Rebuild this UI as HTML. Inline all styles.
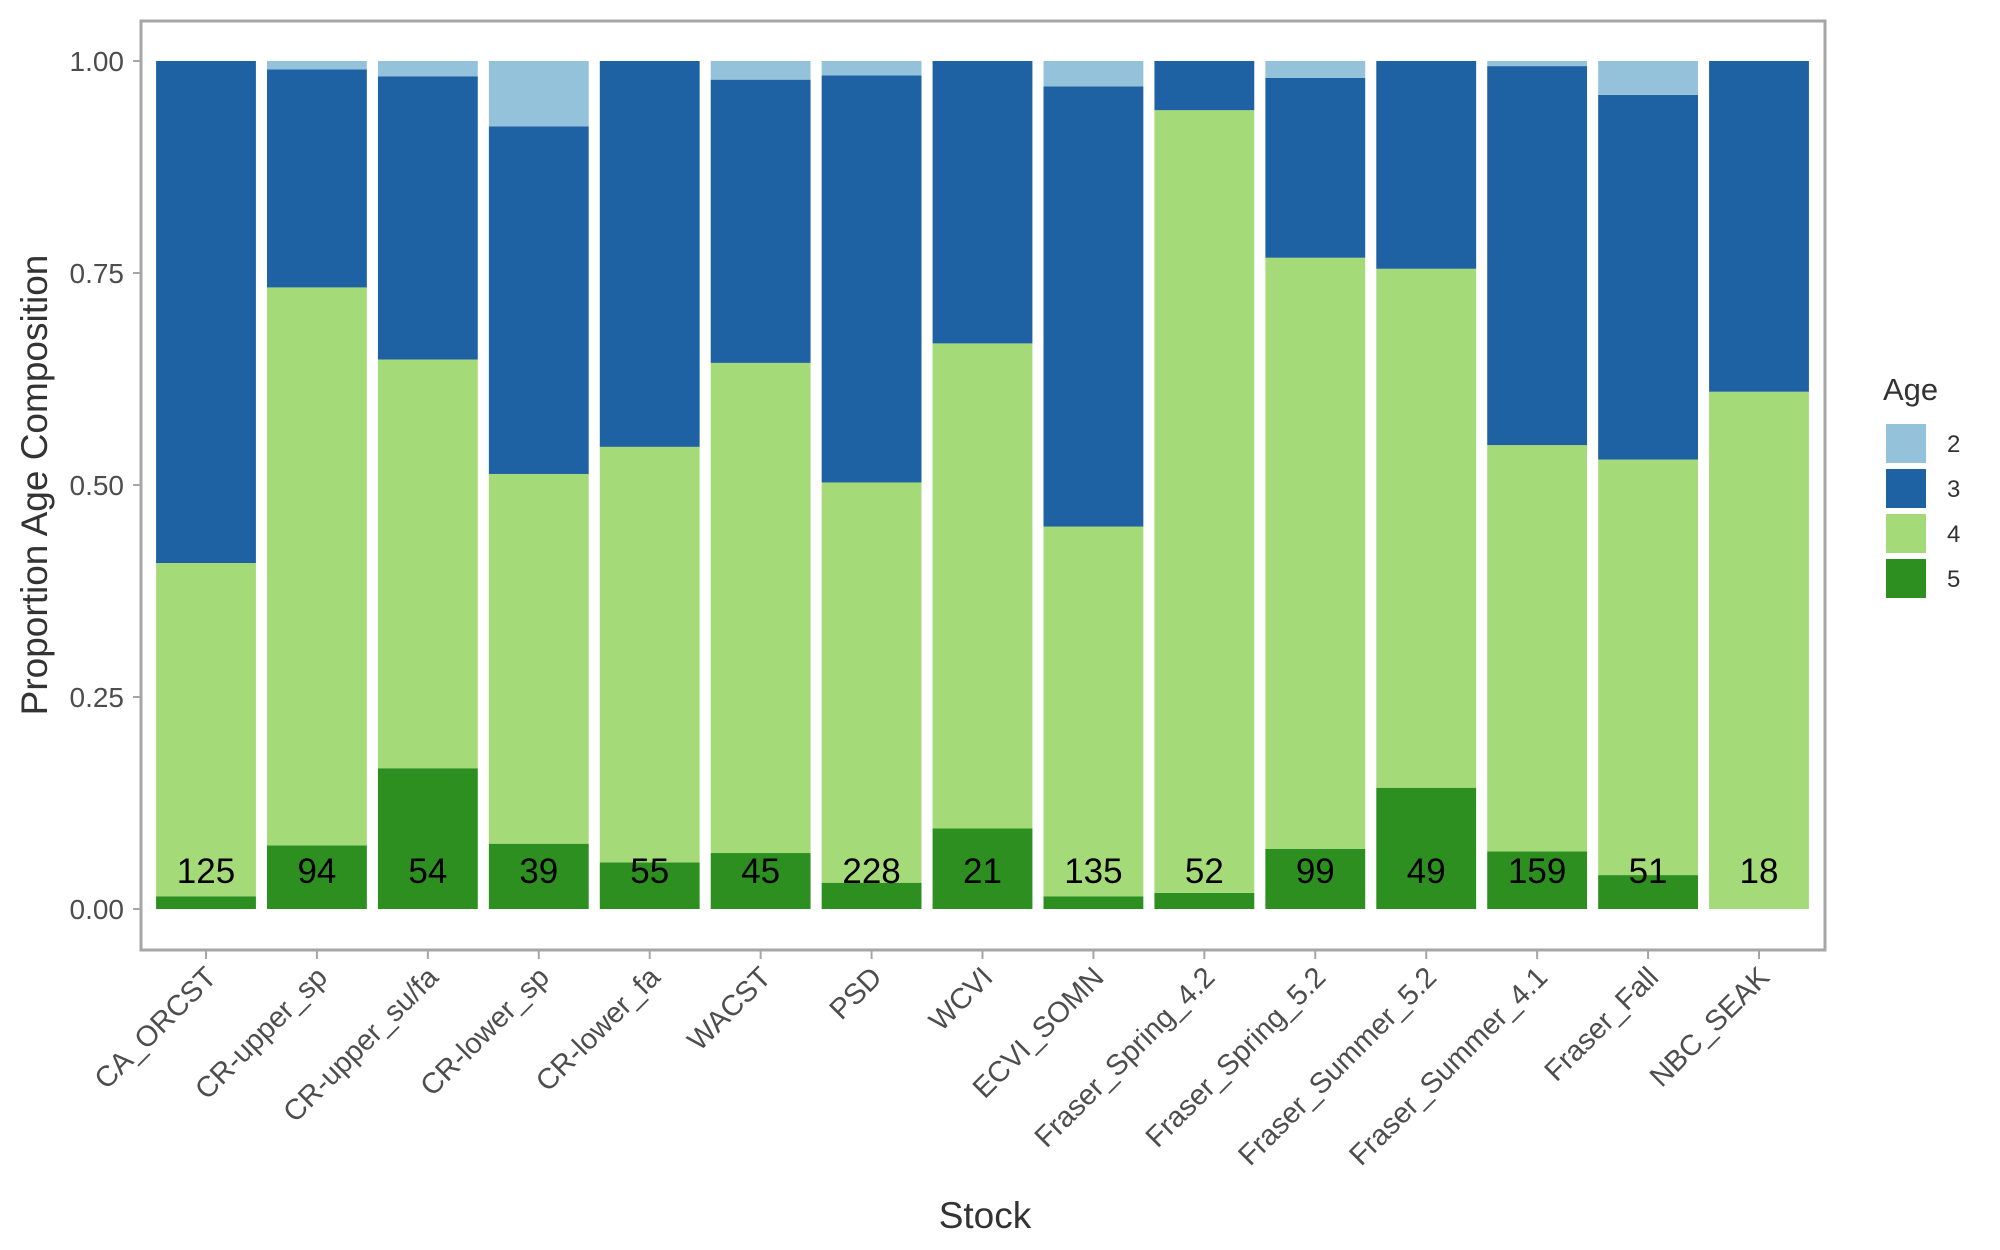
<!DOCTYPE html>
<html><head><meta charset="utf-8"><style>body{margin:0;background:#fff}svg{display:block;font-family:"Liberation Sans",Arial,sans-serif}</style></head>
<body>
<svg id="chart" width="2000" height="1250">
<rect x="141" y="21" width="1684" height="929" fill="#fff" stroke="#a6a6a6" stroke-width="3"/>
<g id="bars"></g><g id="axes"></g><g id="legend"></g>
<text x="985" y="1228" font-size="37" fill="#333" text-anchor="middle">Stock</text>
<text transform="translate(47,485) rotate(-90)" font-size="37" fill="#333" text-anchor="middle">Proportion Age Composition</text>
</svg>
<script>
const stocks=["CA_ORCST","CR-upper_sp","CR-upper_su/fa","CR-lower_sp","CR-lower_fa","WACST","PSD","WCVI","ECVI_SOMN","Fraser_Spring_4.2","Fraser_Spring_5.2","Fraser_Summer_5.2","Fraser_Summer_4.1","Fraser_Fall","NBC_SEAK"];
const age5=[0.015,0.075,0.166,0.077,0.055,0.066,0.031,0.095,0.015,0.019,0.071,0.143,0.068,0.040,0];
const age4=[0.393,0.658,0.482,0.436,0.490,0.578,0.472,0.572,0.436,0.923,0.697,0.612,0.479,0.490,0.610];
const age3=[0.592,0.257,0.334,0.410,0.455,0.334,0.480,0.333,0.519,0.058,0.212,0.245,0.447,0.430,0.390];
const age2=[0,0.010,0.018,0.077,0,0.022,0.017,0,0.030,0,0.020,0,0.006,0.040,0];
const counts=[125,94,54,39,55,45,228,21,135,52,99,49,159,51,18];
const yTicks=[0,0.25,0.5,0.75,1];
const yTickLabels=["0.00","0.25","0.50","0.75","1.00"];
const ages=["2","3","4","5"];
const colors={"2":"#95c2db","3":"#1f62a3","4":"#a5da79","5":"#2c8f20"};
const NS="http://www.w3.org/2000/svg";
const y=v=>909-v*848;
const step=(1759-206)/(stocks.length-1);
const x=i=>206+i*step;
const bw=step*0.9;
const bars=document.getElementById('bars'),axes=document.getElementById('axes'),leg=document.getElementById('legend');
function mk(tag,attrs,parent){const e=document.createElementNS(NS,tag);for(const k in attrs)e.setAttribute(k,attrs[k]);parent.appendChild(e);return e;}
stocks.forEach((s,i)=>{
  const segs=[["5",age5[i]],["4",age4[i]],["3",age3[i]],["2",age2[i]]];
  let cum=0;
  segs.forEach(([a,v])=>{
    if(v>0){const r=mk('rect',{x:x(i)-bw/2,y:y(cum+v),width:bw,height:y(cum)-y(cum+v),fill:colors[a]},bars);
    
    }
    cum+=v;
  });
  const t=mk('text',{x:x(i),y:y(0.045)+12,'font-size':35,'text-anchor':'middle',fill:'#000'},bars);t.textContent=counts[i];
  
  
  const tk=mk('line',{x1:x(i),x2:x(i),y1:950,y2:959,stroke:'#a6a6a6','stroke-width':2},axes);
  
  
  const lb=mk('text',{transform:`translate(${x(i)+12},979) rotate(-45)`,'font-size':29,'text-anchor':'end',fill:'#4d4d4d'},axes);lb.textContent=s;
  
  
});
yTicks.forEach((v,j)=>{
  const tk=mk('line',{x1:133,x2:141,y1:y(v),y2:y(v),stroke:'#a6a6a6','stroke-width':2},axes);
  
  
  const lb=mk('text',{x:124,y:y(v)+10,'font-size':28,'text-anchor':'end',fill:'#4d4d4d'},axes);lb.textContent=yTickLabels[j];
  
  
});
const lt=mk('text',{x:1883,y:400,'font-size':31,fill:'#333'},leg);lt.textContent="Age";


ages.forEach((a,k)=>{
  const r=mk('rect',{x:1886,y:424+k*45,width:40,height:39,fill:colors[a]},leg);
  
  
  const t=mk('text',{x:1947,y:452+k*45,'font-size':24,fill:'#333'},leg);t.textContent=a;
  
  
});
</script>
</body></html>
